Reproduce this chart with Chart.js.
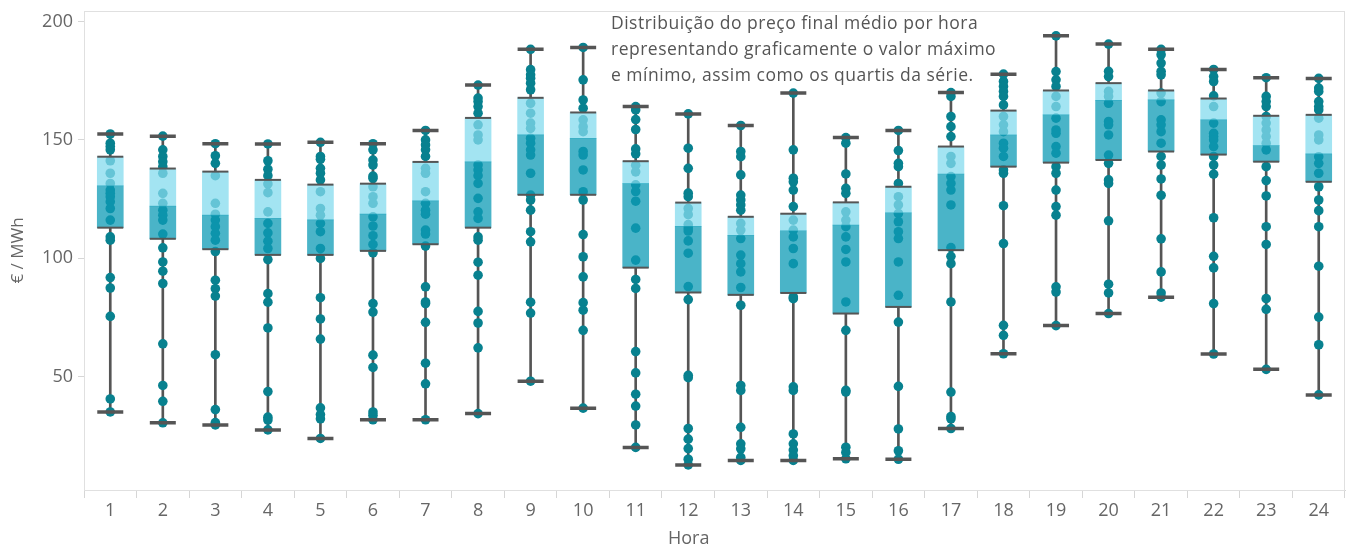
<!DOCTYPE html>
<html>
<head>
<meta charset="utf-8">
<title>Preço final médio por hora</title>
<script src="https://cdn.jsdelivr.net/npm/chart.js@4"></script>
<style>
  html, body { margin: 0; padding: 0; background: #fff; }
  #wrap { position: relative; width: 1347px; height: 547px; }
  #note {
    position: absolute; left: 611px; top: 9px;
    font: 17.5px 'Open Sans', sans-serif; line-height: 26px; letter-spacing: 0.5px; color: #555;
  }
  #xtitle {
    position: absolute; left: 668px; top: 525px;
    font: 18px 'Open Sans', sans-serif; color: #666;
  }
</style>
</head>
<body>
<div id="wrap">
  <canvas id="chart" width="1347" height="547"></canvas>
  <div id="note">Distribuição do preço final médio por hora<br>representando graficamente o valor máximo<br>e mínimo, assim como os quartis da série.</div>
  <div id="xtitle">Hora</div>
</div>
<script>
// Hours of the day
const hours = ['1','2','3','4','5','6','7','8','9','10','11','12','13','14','15','16','17','18','19','20','21','22','23','24'];

// Box plot summary per hour (€/MWh)
const minPrice    = [35.0, 30.4, 29.5, 27.4, 23.8, 31.7, 31.7, 34.3, 48.0, 36.6, 20.0, 12.6, 14.5, 14.5, 15.2, 15.0, 28.0, 59.6, 71.5, 76.6, 83.5, 59.5, 53.0, 42.2];
const q1Price     = [112.9, 108.2, 103.8, 101.4, 101.4, 103.1, 105.9, 112.9, 126.8, 126.8, 96.0, 85.5, 84.5, 85.3, 76.6, 79.4, 103.4, 138.7, 140.4, 141.5, 145.1, 143.8, 140.8, 132.3];
const medianPrice = [130.6, 122.0, 118.2, 116.9, 116.2, 118.6, 124.2, 140.7, 152.1, 150.7, 131.5, 113.5, 109.7, 111.6, 114.0, 119.2, 135.6, 152.1, 160.6, 166.7, 166.9, 158.5, 147.6, 144.1];
const q3Price     = [142.9, 137.9, 136.6, 133.1, 131.1, 131.5, 140.7, 159.3, 167.8, 161.6, 141.0, 123.5, 117.5, 118.8, 123.6, 130.2, 147.2, 162.4, 170.9, 174.0, 170.9, 167.5, 160.2, 160.6];
const maxPrice    = [152.5, 151.6, 148.4, 148.3, 149.0, 148.4, 154.0, 173.2, 188.3, 189.1, 164.1, 161.0, 156.1, 169.8, 151.0, 154.0, 170.0, 177.8, 194.0, 190.5, 188.3, 179.8, 176.3, 176.0];

// Daily prices for each hour
const dailyPrices = [
  [152.5, 148.6, 147.2, 145.8, 141.2, 135.9, 131.6, 128.8, 127.4, 126.0, 123.9, 121.0, 116.1, 109.0, 107.6, 91.8, 87.4, 75.4, 40.5, 35.0],
  [151.6, 145.8, 143.0, 140.8, 138.7, 135.9, 127.4, 123.2, 120.3, 118.2, 116.1, 110.2, 104.4, 98.4, 94.5, 89.3, 63.8, 46.2, 39.5, 30.4],
  [148.4, 143.3, 140.1, 134.9, 123.2, 118.6, 116.1, 113.3, 110.5, 107.6, 102.8, 90.7, 87.1, 84.0, 59.2, 36.0, 30.5, 29.5],
  [148.3, 141.2, 137.6, 134.9, 131.4, 127.7, 119.6, 114.7, 110.7, 107.2, 104.1, 99.4, 85.0, 81.4, 70.5, 43.6, 32.8, 31.6, 27.4],
  [149.0, 143.0, 141.8, 138.0, 135.9, 133.1, 128.1, 121.0, 118.2, 114.7, 111.2, 104.1, 99.9, 83.3, 74.3, 65.8, 36.7, 33.9, 32.1, 23.8],
  [148.4, 145.8, 141.5, 139.4, 134.7, 133.8, 130.2, 126.0, 123.2, 117.5, 113.6, 109.5, 105.8, 102.3, 80.8, 77.2, 59.0, 53.8, 35.0, 33.6, 31.7],
  [154.0, 150.0, 147.9, 145.8, 143.0, 138.0, 135.9, 128.1, 123.2, 120.3, 118.6, 111.9, 110.2, 105.1, 87.9, 81.5, 80.8, 72.9, 55.6, 46.9, 31.7],
  [173.2, 167.7, 166.2, 164.1, 161.3, 156.4, 152.1, 150.0, 139.4, 137.3, 134.9, 131.6, 125.3, 119.6, 116.8, 109.0, 107.6, 98.3, 92.8, 77.5, 72.6, 62.1, 34.3],
  [188.3, 179.7, 177.5, 176.1, 174.0, 171.2, 165.5, 161.3, 157.1, 154.9, 150.7, 148.6, 145.8, 143.6, 135.9, 126.7, 124.6, 120.3, 111.2, 106.9, 81.4, 76.8, 48.0],
  [189.1, 175.4, 166.9, 163.4, 158.5, 155.6, 153.5, 145.1, 143.6, 137.3, 128.1, 124.6, 110.0, 100.6, 92.1, 81.2, 78.0, 69.5, 36.6],
  [164.1, 162.7, 158.6, 154.4, 146.2, 144.1, 139.3, 136.5, 131.0, 128.2, 124.1, 112.7, 99.2, 91.0, 87.2, 60.5, 51.5, 42.5, 37.5, 29.5, 20.0],
  [161.0, 146.5, 138.0, 127.5, 126.0, 121.0, 118.4, 114.2, 112.8, 111.5, 107.3, 102.1, 88.0, 82.5, 50.5, 49.5, 28.0, 23.5, 19.5, 15.0, 12.6],
  [156.1, 145.1, 142.9, 135.2, 126.7, 124.6, 122.5, 120.3, 114.7, 111.9, 108.3, 101.3, 97.7, 94.2, 87.6, 80.1, 46.2, 44.1, 28.5, 21.5, 19.4, 15.8, 14.5],
  [169.8, 145.8, 133.8, 132.3, 128.8, 121.8, 116.1, 111.9, 109.0, 104.1, 97.7, 83.6, 82.9, 45.6, 44.1, 25.7, 21.5, 18.9, 16.5, 14.5],
  [151.0, 148.6, 135.6, 129.5, 127.4, 119.6, 116.1, 113.3, 109.0, 103.7, 98.4, 81.5, 69.5, 44.1, 43.4, 20.1, 17.9, 15.2],
  [154.0, 145.5, 140.1, 138.7, 131.6, 126.0, 122.5, 118.9, 115.4, 111.2, 108.3, 98.4, 84.3, 73.0, 45.8, 27.8, 18.6, 15.0],
  [170.0, 168.4, 159.9, 155.6, 151.4, 143.0, 140.1, 134.5, 131.6, 128.8, 122.5, 104.5, 100.8, 97.7, 81.5, 43.4, 33.1, 32.1, 28.0],
  [177.8, 174.7, 172.6, 170.5, 168.4, 164.8, 159.9, 156.4, 153.5, 148.6, 146.5, 143.0, 137.3, 135.9, 122.2, 106.2, 71.6, 67.4, 59.6],
  [194.0, 178.9, 175.4, 172.6, 168.4, 164.1, 159.2, 154.2, 152.8, 147.2, 144.4, 138.7, 135.9, 128.8, 121.8, 118.2, 87.9, 85.7, 71.5],
  [190.5, 179.0, 176.8, 170.5, 168.4, 165.5, 157.8, 156.4, 152.1, 143.6, 140.1, 133.1, 131.6, 115.8, 89.0, 85.3, 76.6],
  [188.3, 186.0, 182.5, 179.0, 177.5, 169.8, 166.2, 158.5, 156.4, 153.5, 148.6, 143.0, 139.4, 133.5, 126.6, 108.2, 94.2, 85.3, 83.5],
  [179.8, 176.8, 174.7, 168.6, 164.1, 157.1, 152.8, 151.4, 150.0, 147.2, 143.0, 139.4, 135.5, 117.1, 100.8, 95.9, 80.8, 59.5],
  [176.3, 168.4, 166.2, 164.1, 159.9, 157.1, 154.2, 151.4, 148.6, 145.8, 138.7, 132.8, 126.3, 113.3, 105.8, 82.9, 78.4, 53.0],
  [176.0, 171.9, 170.5, 166.2, 164.1, 162.7, 159.2, 152.1, 150.0, 142.9, 140.1, 135.9, 130.2, 124.6, 120.1, 113.3, 96.6, 75.1, 63.4, 42.2]
];

const yTicks = [50, 100, 150, 200];

const FONT = "'Open Sans', sans-serif";
const GREY = '#666';
const LINE = '#555';
const AXIS = '#d6d6d6';

// light frame around the plot area
const frame = {
  id: 'frame',
  beforeDatasetsDraw(chart) {
    const { ctx, chartArea: a } = chart;
    ctx.save();
    ctx.strokeStyle = '#e0e0e0';
    ctx.lineWidth = 1;
    ctx.strokeRect(a.left + 0.5, a.top + 0.5, a.right - a.left - 1, a.bottom - a.top);
    ctx.restore();
  }
};

const points = dailyPrices.flatMap((vals, i) => vals.map(v => ({ x: hours[i], y: v })));
const marks = arr => arr.map((v, i) => ({ x: hours[i], y: v }));

new Chart(document.getElementById('chart'), {
  type: 'bar',
  data: {
    labels: hours,
    datasets: [
      {
        // lower whisker
        data: hours.map((h, i) => [minPrice[i], q1Price[i]]),
        backgroundColor: LINE, barThickness: 2, grouped: false, order: 6
      },
      {
        // upper whisker
        data: hours.map((h, i) => [q3Price[i], maxPrice[i]]),
        backgroundColor: LINE, barThickness: 2, grouped: false, order: 6
      },
      {
        type: 'scatter',
        data: points,
        backgroundColor: '#08818f', borderWidth: 0,
        pointRadius: 4.8, order: 5
      },
      {
        // q1 -> median
        data: hours.map((h, i) => [q1Price[i], medianPrice[i]]),
        backgroundColor: 'rgba(14, 155, 182, 0.75)', barThickness: 26, grouped: false, order: 4
      },
      {
        // median -> q3
        data: hours.map((h, i) => [medianPrice[i], q3Price[i]]),
        backgroundColor: 'rgba(132, 219, 238, 0.75)', barThickness: 26, grouped: false, order: 4
      },
      {
        // box edges
        type: 'scatter',
        data: marks(q1Price).concat(marks(q3Price)),
        pointStyle: 'line', pointRadius: 13, borderColor: LINE, borderWidth: 2, order: 2
      },
      {
        // whisker caps
        type: 'scatter',
        data: marks(minPrice).concat(marks(maxPrice)),
        pointStyle: 'line', pointRadius: 13, borderColor: LINE, borderWidth: 3.5, order: 1
      }
    ]
  },
  options: {
    responsive: false,
    devicePixelRatio: 1,
    animation: false,
    events: [],
    layout: { autoPadding: false, padding: { top: 11, right: 2, left: 0, bottom: 0 } },
    plugins: { legend: { display: false }, tooltip: { enabled: false } },
    scales: {
      x: {
        type: 'category',
        offset: true,
        grid: { offset: true, drawOnChartArea: false, tickLength: 8, color: AXIS },
        border: { color: AXIS },
        ticks: { color: GREY, font: { family: FONT, size: 18 }, padding: 2, maxRotation: 0 },
        afterFit: s => { s.height = 57; s.paddingLeft = 0; s.paddingRight = 0; }
      },
      y: {
        min: 2,
        max: 204.5,
        afterBuildTicks: s => { s.ticks = yTicks.map(v => ({ value: v })); },
        grid: { drawOnChartArea: false, tickLength: 6, color: AXIS },
        border: { color: AXIS },
        ticks: { color: GREY, font: { family: FONT, size: 18 }, padding: 5 },
        title: { display: true, text: '€ / MWh', color: GREY, font: { family: FONT, size: 17 }, padding: { top: 8, bottom: 0 } },
        afterFit: s => { s.width = 84; s.paddingTop = 0; s.paddingBottom = 0; }
      }
    }
  },
  plugins: [frame]
});
</script>
</body>
</html>
